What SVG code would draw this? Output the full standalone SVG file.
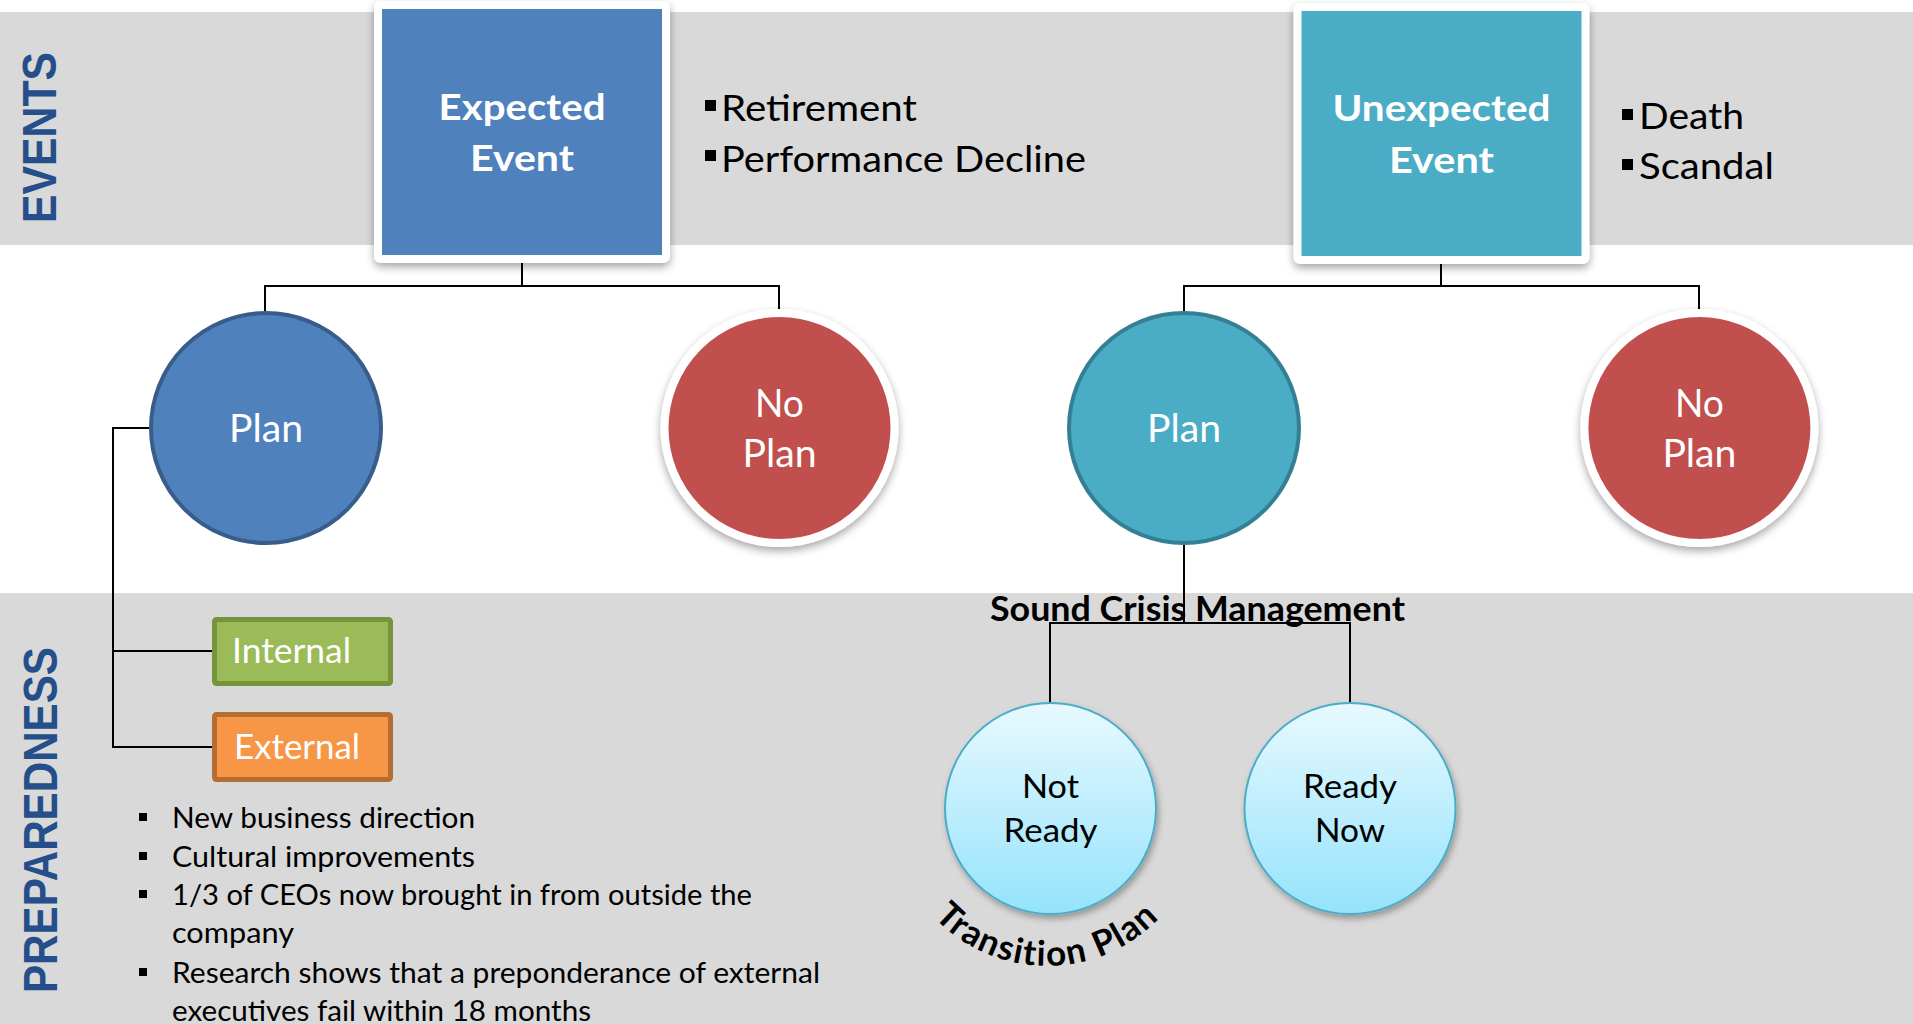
<svg xmlns="http://www.w3.org/2000/svg" width="1913" height="1024" viewBox="0 0 1913 1024">
  <defs>
    <style>
      .t { font-family: Lato, "Liberation Sans", sans-serif; }
      .w { fill: #ffffff; }
      .k { fill: #000000; }
      .b { font-weight: bold; }
      .side { font-family: "Liberation Sans", Arial, sans-serif; font-weight: bold; fill: #254f8a; font-size: 49px; }
      .conn { fill: none; stroke: #000000; stroke-width: 2; }
      .band { fill: #d9d9d9; }
    </style>
    <linearGradient id="lightBlue" x1="0" y1="0" x2="0" y2="1">
      <stop offset="0" stop-color="#e8f9ff"/>
      <stop offset="1" stop-color="#94e3fb"/>
    </linearGradient>
    <filter id="shadow" x="-20%" y="-20%" width="140%" height="150%">
      <feDropShadow dx="0" dy="4" stdDeviation="4" flood-color="#000000" flood-opacity="0.35"/>
    </filter>
    <filter id="shadowSoft" x="-20%" y="-20%" width="140%" height="150%">
      <feDropShadow dx="2" dy="4" stdDeviation="3" flood-color="#000000" flood-opacity="0.3"/>
    </filter>
    <!-- baseline arc under the "Not Ready" circle -->
    <path id="arcTransition" d="M895,845 A156,156 0 0 0 1199,845"/>
  </defs>

  <!-- background bands -->
  <rect x="0" y="0" width="1913" height="1024" fill="#ffffff"/>
  <rect class="band" x="0" y="12" width="1913" height="233"/>
  <rect class="band" x="0" y="593" width="1913" height="431"/>

  <!-- side titles -->
  <text class="side" transform="translate(56,137.5) rotate(-90)" text-anchor="middle" textLength="171" lengthAdjust="spacingAndGlyphs">EVENTS</text>
  <text class="side" transform="translate(57,820) rotate(-90)" text-anchor="middle" textLength="346" lengthAdjust="spacingAndGlyphs">PREPAREDNESS</text>

  <!-- connectors -->
  <g id="connectors">
    <path class="conn" d="M522,258 V286 M265,311 V286 H779 V309"/>
    <path class="conn" d="M1441,260 V286 M1184,311 V286 H1699 V309"/>
    <path class="conn" d="M149,428 H113 V747 H212 M113,651 H212"/>
    <path class="conn" d="M1184,545 V623 M1050,703 V623 H1350 V703"/>
  </g>

  <!-- expected event -->
  <g id="expected-event">
    <rect x="378" y="5" width="288" height="254" rx="3" fill="#4f81bd" stroke="#ffffff" stroke-width="8" filter="url(#shadow)"/>
    <text class="t w b" x="522" y="120" font-size="36" text-anchor="middle" textLength="167" lengthAdjust="spacingAndGlyphs">Expected</text>
    <text class="t w b" x="522" y="171" font-size="36" text-anchor="middle" textLength="104" lengthAdjust="spacingAndGlyphs">Event</text>
  </g>

  <g id="expected-list">
    <rect x="705" y="100" width="11" height="11" fill="#000000"/>
    <text class="t k" x="721" y="121" font-size="37" textLength="196" lengthAdjust="spacingAndGlyphs">Retirement</text>
    <rect x="705" y="150" width="11" height="11" fill="#000000"/>
    <text class="t k" x="721" y="172" font-size="37" textLength="365" lengthAdjust="spacingAndGlyphs">Performance Decline</text>
  </g>

  <!-- unexpected event -->
  <g id="unexpected-event">
    <rect x="1297.5" y="7" width="288" height="253" rx="3" fill="#4bacc6" stroke="#ffffff" stroke-width="8" filter="url(#shadow)"/>
    <text class="t w b" x="1441.5" y="121" font-size="36" text-anchor="middle" textLength="218" lengthAdjust="spacingAndGlyphs">Unexpected</text>
    <text class="t w b" x="1441.5" y="173" font-size="36" text-anchor="middle" textLength="105" lengthAdjust="spacingAndGlyphs">Event</text>
  </g>

  <g id="unexpected-list">
    <rect x="1622" y="109" width="11" height="11" fill="#000000"/>
    <text class="t k" x="1639" y="128.6" font-size="37" textLength="105" lengthAdjust="spacingAndGlyphs">Death</text>
    <rect x="1622" y="159" width="11" height="11" fill="#000000"/>
    <text class="t k" x="1639" y="178.6" font-size="37" textLength="135" lengthAdjust="spacingAndGlyphs">Scandal</text>
  </g>

  <!-- expected branch -->
  <g id="expected-plan">
    <circle cx="266" cy="428" r="115" fill="#4f81bd" stroke="#385d8a" stroke-width="4"/>
    <text class="t w" x="266" y="442" font-size="39" text-anchor="middle" textLength="74" lengthAdjust="spacingAndGlyphs">Plan</text>
  </g>

  <g id="expected-no-plan">
    <circle cx="779.5" cy="428" r="115" fill="#c0504d" stroke="#ffffff" stroke-width="8" filter="url(#shadow)"/>
    <text class="t w" x="779.5" y="417" font-size="39" text-anchor="middle" textLength="49" lengthAdjust="spacingAndGlyphs">No</text>
    <text class="t w" x="779.5" y="467" font-size="39" text-anchor="middle" textLength="74" lengthAdjust="spacingAndGlyphs">Plan</text>
  </g>

  <!-- unexpected branch -->
  <g id="unexpected-plan">
    <circle cx="1184" cy="428" r="115" fill="#4bacc6" stroke="#357f94" stroke-width="4"/>
    <text class="t w" x="1184" y="442" font-size="39" text-anchor="middle" textLength="74" lengthAdjust="spacingAndGlyphs">Plan</text>
  </g>

  <g id="unexpected-no-plan">
    <circle cx="1699.4" cy="428" r="115" fill="#c0504d" stroke="#ffffff" stroke-width="8" filter="url(#shadow)"/>
    <text class="t w" x="1699.4" y="417" font-size="39" text-anchor="middle" textLength="49" lengthAdjust="spacingAndGlyphs">No</text>
    <text class="t w" x="1699.4" y="467" font-size="39" text-anchor="middle" textLength="74" lengthAdjust="spacingAndGlyphs">Plan</text>
  </g>

  <!-- sourcing options -->
  <g id="internal">
    <rect x="214.5" y="619.5" width="176" height="64" rx="2" fill="#9bbb59" stroke="#77933c" stroke-width="5"/>
    <text class="t w" x="232" y="663" font-size="34" textLength="119" lengthAdjust="spacingAndGlyphs">Internal</text>
  </g>

  <g id="external">
    <rect x="214.5" y="714.5" width="176" height="65" rx="2" fill="#f79646" stroke="#b66d31" stroke-width="5"/>
    <text class="t w" x="234" y="759" font-size="34" textLength="126" lengthAdjust="spacingAndGlyphs">External</text>
  </g>

  <g id="external-notes">
    <rect x="139" y="813" width="8" height="8" fill="#000000"/>
    <text class="t k" x="172" y="828" font-size="28" textLength="303" lengthAdjust="spacingAndGlyphs">New business direction</text>
    <rect x="139" y="852" width="8" height="8" fill="#000000"/>
    <text class="t k" x="172" y="867" font-size="28" textLength="303" lengthAdjust="spacingAndGlyphs">Cultural improvements</text>
    <rect x="139" y="890" width="8" height="8" fill="#000000"/>
    <text class="t k" x="172" y="905" font-size="28" textLength="580" lengthAdjust="spacingAndGlyphs">1/3 of CEOs now brought in from outside the</text>
    <text class="t k" x="172" y="943" font-size="28" textLength="122" lengthAdjust="spacingAndGlyphs">company</text>
    <rect x="139" y="968" width="8" height="8" fill="#000000"/>
    <text class="t k" x="172" y="983" font-size="28" textLength="648" lengthAdjust="spacingAndGlyphs">Research shows that a preponderance of external</text>
    <text class="t k" x="172" y="1021" font-size="28" textLength="419" lengthAdjust="spacingAndGlyphs">executives fail within 18 months</text>
  </g>

  <!-- crisis readiness -->
  <g id="crisis-label">
    <text class="t k b" x="1197.5" y="621" font-size="33.5" text-anchor="middle" textLength="415" lengthAdjust="spacingAndGlyphs">Sound Crisis Management</text>
  </g>

  <g id="not-ready">
    <circle cx="1050.5" cy="808.5" r="105.5" fill="url(#lightBlue)" stroke="#4bacc6" stroke-width="2" filter="url(#shadowSoft)"/>
    <text class="t k" x="1050.5" y="798" font-size="32.5" text-anchor="middle" textLength="57" lengthAdjust="spacingAndGlyphs">Not</text>
    <text class="t k" x="1050.5" y="842" font-size="32.5" text-anchor="middle" textLength="94" lengthAdjust="spacingAndGlyphs">Ready</text>
  </g>

  <g id="ready-now">
    <circle cx="1350" cy="808.5" r="105.5" fill="url(#lightBlue)" stroke="#4bacc6" stroke-width="2" filter="url(#shadowSoft)"/>
    <text class="t k" x="1350" y="798" font-size="32.5" text-anchor="middle" textLength="94" lengthAdjust="spacingAndGlyphs">Ready</text>
    <text class="t k" x="1350" y="842" font-size="32.5" text-anchor="middle" textLength="70" lengthAdjust="spacingAndGlyphs">Now</text>
  </g>

  <g id="transition-label">
    <text class="t k b" font-size="35" letter-spacing="1.5">
      <textPath href="#arcTransition" startOffset="50%" text-anchor="middle">Transition Plan</textPath>
    </text>
  </g>
</svg>
